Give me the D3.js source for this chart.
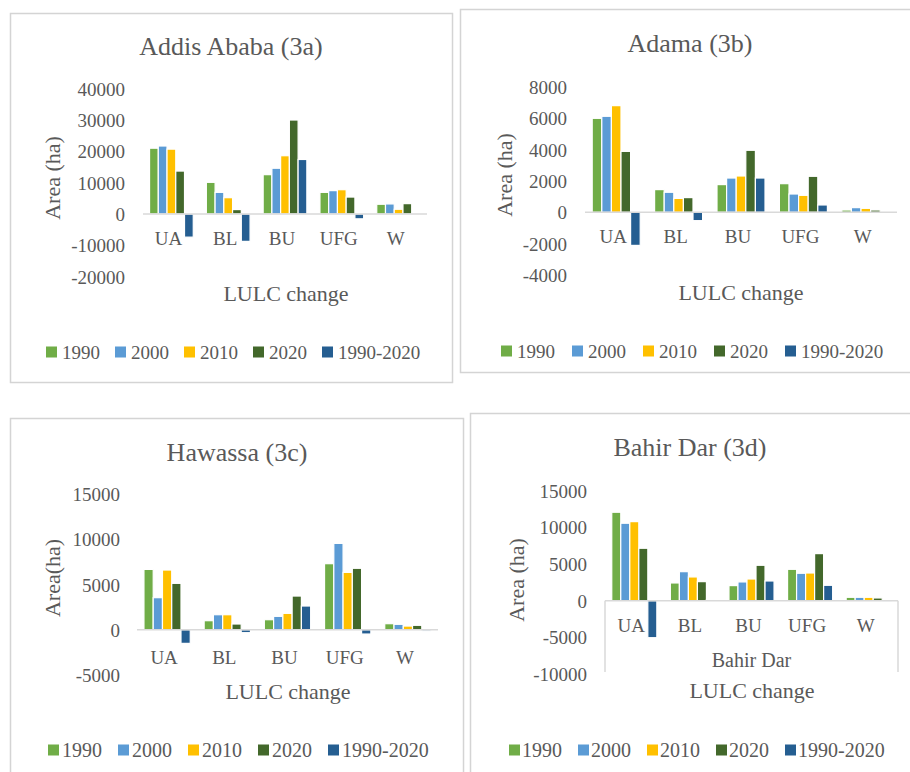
<!DOCTYPE html>
<html>
<head>
<meta charset="utf-8">
<script src="https://cdn.jsdelivr.net/npm/d3@7"></script>
<style>
  html, body { margin: 0; padding: 0; background: #fff; }
  svg { display: block; }
  svg, svg text { font-family: "Times New Roman", "Liberation Serif", Tinos, serif !important; fill: #595959; }
</style>
</head>
<body>
<script>
// ---------------- DATA ----------------
const categories = ["UA", "BL", "BU", "UFG", "W"];
const seriesNames = ["1990", "2000", "2010", "2020", "1990-2020"];
const seriesColors = ["#70AD47", "#5B9BD5", "#FFC000", "#43682B", "#255E91"];

// Addis Ababa (3a)
const addis1990   = [21000, 10100, 12550, 6900, 3100];
const addis2000   = [21700, 6900, 14600, 7450, 3200];
const addis2010   = [20700, 5200, 18600, 7750, 1500];
const addis2020   = [13700, 1400, 30000, 5400, 3300];
const addisChange = [-7400, -8750, 17400, -1550, 200];
const addisTicks  = [-20000, -10000, 0, 10000, 20000, 30000, 40000];

// Adama (3b)
const adama1990   = [6000, 1450, 1770, 1830, 150];
const adama2000   = [6130, 1280, 2190, 1170, 300];
const adama2010   = [6810, 890, 2320, 1085, 255];
const adama2020   = [3890, 940, 3960, 2300, 150];
const adamaChange = [-2110, -530, 2190, 470, 0];
const adamaTicks  = [-4000, -2000, 0, 2000, 4000, 6000, 8000];

// Hawassa (3c)
const hawassa1990   = [6650, 990, 1100, 7280, 660];
const hawassa2000   = [3530, 1650, 1470, 9520, 590];
const hawassa2010   = [6580, 1650, 1800, 6320, 400];
const hawassa2020   = [5110, 625, 3710, 6770, 480];
const hawassaChange = [-1510, -330, 2610, -480, -150];
const hawassaTicks  = [-5000, 0, 5000, 10000, 15000];

// Bahir Dar (3d)
const bahir1990   = [12050, 2410, 2050, 4270, 455];
const bahir2000   = [10550, 3950, 2550, 3730, 455];
const bahir2010   = [10770, 3230, 2950, 3770, 455];
const bahir2020   = [7140, 2590, 4820, 6410, 365];
const bahirChange = [-5050, 140, 2680, 2090, -90];
const bahirTicks  = [-10000, -5000, 0, 5000, 10000, 15000];

// ---------------- LAYOUT ----------------
const FONT = '"Times New Roman", "Liberation Serif", Tinos, serif';
const panels = [
  { title: "Addis Ababa (3a)", series: [addis1990, addis2000, addis2010, addis2020, addisChange], ticks: addisTicks,
    box: [10, 13, 442, 369], titleX: 231, titleY: 55,
    yDom: [-20000, 40000], yRng: [276.6, 88.7], xRng: [143, 427], tickX: 125,
    catY: 245, yLabel: "Area (ha)", yLabelX: 52, yLabelY: 178,
    xTitle: "LULC change", xTitleX: 286, xTitleY: 301,
    legX: 46, legY: 352, legGap: 15, legTxtOff: 16, legFont: 19 },
  { title: "Adama (3b)", series: [adama1990, adama2000, adama2010, adama2020, adamaChange], ticks: adamaTicks,
    box: [460, 9, 470, 363], titleX: 690, titleY: 52,
    yDom: [-4000, 8000], yRng: [275, 87], xRng: [585, 897], tickX: 567,
    catY: 243, yLabel: "Area (ha)", yLabelX: 504, yLabelY: 175,
    xTitle: "LULC change", xTitleX: 741, xTitleY: 300,
    legX: 501, legY: 351, legGap: 17, legTxtOff: 16, legFont: 19 },
  { title: "Hawassa (3c)", series: [hawassa1990, hawassa2000, hawassa2010, hawassa2020, hawassaChange], ticks: hawassaTicks,
    box: [10, 418, 453, 380], titleX: 237, titleY: 461,
    yDom: [-5000, 15000], yRng: [675, 493.7], xRng: [137, 438], tickX: 120,
    catY: 664, yLabel: "Area(ha)", yLabelX: 52, yLabelY: 578,
    xTitle: "LULC change", xTitleX: 288, xTitleY: 699,
    legX: 48, legY: 750, legGap: 16, legTxtOff: 14, legFont: 20 },
  { title: "Bahir Dar (3d)", series: [bahir1990, bahir2000, bahir2010, bahir2020, bahirChange], ticks: bahirTicks,
    box: [470, 413, 470, 380], titleX: 690, titleY: 456,
    yDom: [-10000, 15000], yRng: [674, 490.6], xRng: [605, 898], tickX: 587,
    catY: 632, yLabel: "Area (ha)", yLabelX: 516, yLabelY: 580,
    xTitle: "LULC change", xTitleX: 752, xTitleY: 698,
    multiLevel: "Bahir Dar", multiY: 667, multiBottom: 672,
    legX: 509, legY: 750, legGap: 16, legTxtOff: 13, legFont: 20 }
];

const svg = d3.select("body").append("svg").attr("width", 910).attr("height", 772)
  .attr("font-family", FONT);

panels.forEach(p => {
  const g = svg.append("g");

  // panel border
  g.append("rect")
    .attr("x", p.box[0] + 0.5).attr("y", p.box[1] + 0.5)
    .attr("width", p.box[2]).attr("height", p.box[3])
    .attr("fill", "#fff").attr("stroke", "#d4d4d4").attr("stroke-width", 1.5);

  // title
  g.append("text").attr("x", p.titleX).attr("y", p.titleY)
    .attr("text-anchor", "middle").style("font-size", "26px").text(p.title);

  const y = d3.scaleLinear().domain(p.yDom).range(p.yRng);
  const x0 = d3.scaleBand().domain(categories).range(p.xRng).paddingInner(0).paddingOuter(0);
  const x1 = d3.scaleBand().domain(seriesNames).range([0, x0.bandwidth()]).paddingInner(0).paddingOuter(0.75);

  // y axis ticks
  const yAxis = d3.axisLeft(y).tickValues(p.ticks).tickSize(0).tickPadding(0).tickFormat(d => String(d));
  const ya = g.append("g").attr("transform", `translate(${p.tickX},0)`).call(yAxis);
  ya.attr("font-family", null).attr("font-size", null);
  ya.select(".domain").remove();
  ya.selectAll("text").attr("x", 0).attr("dy", "0.35em")
    .style("font-size", "19px").attr("fill", "#595959");

  // bars
  seriesNames.forEach((s, si) => {
    g.append("g").selectAll("rect")
      .data(p.series[si].map((v, ci) => ({ cat: categories[ci], v })))
      .join("rect")
      .attr("x", d => x0(d.cat) + x1(s))
      .attr("width", x1.bandwidth())
      .attr("y", d => Math.min(y(d.v), y(0)))
      .attr("height", d => Math.abs(y(d.v) - y(0)))
      .attr("fill", seriesColors[si])
      .attr("stroke", "#fff").attr("stroke-width", 1.2);
  });

  // zero axis line
  g.append("line").attr("x1", p.xRng[0]).attr("x2", p.xRng[1])
    .attr("y1", y(0)).attr("y2", y(0)).attr("stroke", "#d9d9d9").attr("stroke-width", 1.5);

  if (p.multiLevel) {
    [p.xRng[0], p.xRng[1]].forEach(xx => {
      g.append("line").attr("x1", xx).attr("x2", xx).attr("y1", y(0)).attr("y2", p.multiBottom)
        .attr("stroke", "#d9d9d9").attr("stroke-width", 1.5);
    });
    g.append("text").attr("x", (p.xRng[0] + p.xRng[1]) / 2).attr("y", p.multiY)
      .attr("text-anchor", "middle").style("font-size", "20px").text(p.multiLevel);
  }

  // category labels
  const xAxis = d3.axisBottom(x0).tickSize(0).tickPadding(0);
  const xa = g.append("g").attr("transform", `translate(-3,${p.catY})`).call(xAxis);
  xa.attr("font-family", null).attr("font-size", null);
  xa.select(".domain").remove();
  xa.selectAll("text").attr("y", 0).attr("dy", null)
    .style("font-size", "19px").attr("fill", "#595959");

  // y label
  g.append("text")
    .attr("transform", `translate(${p.yLabelX},${p.yLabelY}) rotate(-90)`)
    .attr("text-anchor", "middle").attr("dy", "0.35em")
    .style("font-size", "22px").text(p.yLabel);

  // x title
  g.append("text").attr("x", p.xTitleX).attr("y", p.xTitleY)
    .attr("text-anchor", "middle").style("font-size", "22px").text(p.xTitle);

  // legend
  let lx = p.legX;
  seriesNames.forEach((s, si) => {
    g.append("rect").attr("x", lx).attr("y", p.legY - 5.5).attr("width", 11).attr("height", 11)
      .attr("fill", seriesColors[si]);
    const t = g.append("text").attr("x", lx + p.legTxtOff).attr("y", p.legY).attr("dy", "0.35em")
      .style("font-size", p.legFont + "px").text(s);
    lx = lx + p.legTxtOff + t.node().getComputedTextLength() + p.legGap;
  });
});
</script>
</body>
</html>
